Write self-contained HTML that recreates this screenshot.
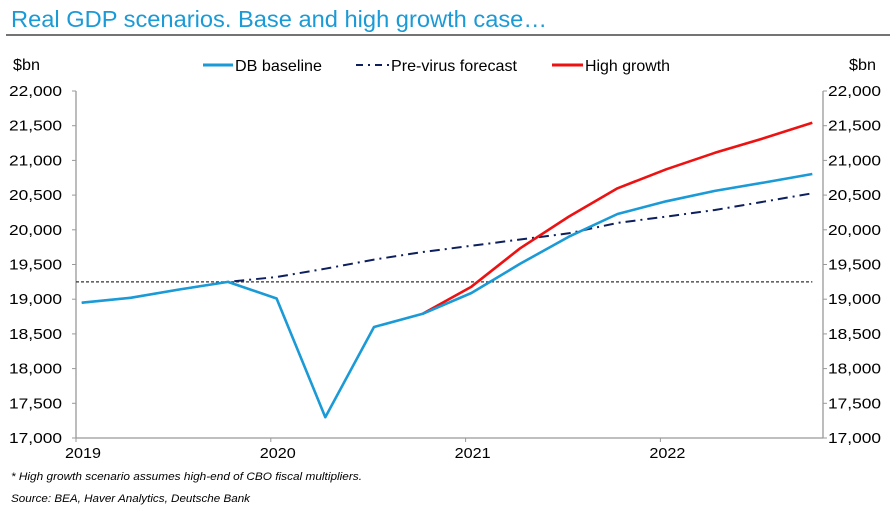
<!DOCTYPE html>
<html><head><meta charset="utf-8"><style>
body{margin:0;background:#fff}
svg{display:block;font-family:"Liberation Sans",Arial,sans-serif}
</style></head><body>
<svg id="chart" width="893" height="506" viewBox="0 0 893 506" xmlns="http://www.w3.org/2000/svg">
<text x="11" y="27" font-size="23" fill="#1a9ad6" textLength="536" lengthAdjust="spacingAndGlyphs">Real GDP scenarios. Base and high growth case…</text>
<line x1="6" y1="35" x2="890" y2="35" stroke="#222" stroke-width="1.2"/>
<text x="13" y="70" font-size="16" textLength="27" lengthAdjust="spacingAndGlyphs">$bn</text>
<text x="849" y="70" font-size="16" textLength="27" lengthAdjust="spacingAndGlyphs">$bn</text>
<g>
 <g><line x1="203" y1="65" x2="233" y2="65" stroke="#1a9ad6" stroke-width="3"/><text x="235" y="71" font-size="16" textLength="87" lengthAdjust="spacingAndGlyphs">DB baseline</text></g>
 <g><line x1="356" y1="65" x2="389" y2="65" stroke="#0d1f5c" stroke-width="2" stroke-dasharray="7,5,2,5"/><text x="391" y="71" font-size="16" textLength="126" lengthAdjust="spacingAndGlyphs">Pre-virus forecast</text></g>
 <g><line x1="552" y1="65" x2="583" y2="65" stroke="#ee1111" stroke-width="3"/><text x="585" y="71" font-size="16" textLength="85" lengthAdjust="spacingAndGlyphs">High growth</text></g>
</g>
<g id="axes"></g>
<g id="marks"></g>
<text x="11" y="480" font-size="11" font-style="italic" textLength="351" lengthAdjust="spacingAndGlyphs">* High growth scenario assumes high-end of CBO fiscal multipliers.</text>
<text x="11" y="502" font-size="11" font-style="italic" textLength="239" lengthAdjust="spacingAndGlyphs">Source: BEA, Haver Analytics, Deutsche Bank</text>
</svg>
<script>
const quarters=["2019Q1","2019Q2","2019Q3","2019Q4","2020Q1","2020Q2","2020Q3","2020Q4","2021Q1","2021Q2","2021Q3","2021Q4","2022Q1","2022Q2","2022Q3","2022Q4"];
const dbBaseline=[18950,19020,19140,19250,19010,17300,18600,18790,19090,19510,19900,20228,20410,20560,20680,20804];
const preVirus=[18950,19020,19140,19250,19320,19440,19570,19680,19770,19860,19950,20100,20190,20285,20405,20526];
const highGrowth=[null,null,null,null,null,null,null,18790,19180,19733,20190,20598,20872,21110,21318,21543];
const referenceLevel=19250;
const yTicks=[17000,17500,18000,18500,19000,19500,20000,20500,21000,21500,22000];
const xYears=[2019,2020,2021,2022];

const NS="http://www.w3.org/2000/svg";
const X0=76,X1=823,YEARW=194.8,Y0=438,Y1=91,VMIN=17000,VMAX=22000;
const xYear=y=>X0+(y-2019)*YEARW;
const xQ=i=>xYear(2019+i/4+0.03);
const yV=v=>Y0-(v-VMIN)/(VMAX-VMIN)*(Y0-Y1);
function mk(tag,attrs,parent){const e=document.createElementNS(NS,tag);for(const k in attrs)e.setAttribute(k,attrs[k]);parent.appendChild(e);return e;}
const axes=document.getElementById('axes'),marks=document.getElementById('marks');
let e;
e=mk('line',{x1:X0,y1:Y1,x2:X0,y2:Y0,stroke:'#999','stroke-width':1.3},axes);


e=mk('line',{x1:X1,y1:Y1,x2:X1,y2:Y0,stroke:'#999','stroke-width':1.3},axes);


e=mk('line',{x1:X0,y1:Y0,x2:X1,y2:Y0,stroke:'#999','stroke-width':1.3},axes);


yTicks.forEach(v=>{const y=yV(v);const s=v.toLocaleString('en-US');
 mk('line',{x1:X0-4,y1:y,x2:X0,y2:y,stroke:'#999'},axes);
 mk('line',{x1:X1,y1:y,x2:X1+4,y2:y,stroke:'#999'},axes);
 e=mk('text',{x:62,y:y+5,'font-size':15,'text-anchor':'end',textLength:53,lengthAdjust:'spacingAndGlyphs'},axes);e.textContent=s;
 
 
 e=mk('text',{x:828,y:y+5,'font-size':15,textLength:53,lengthAdjust:'spacingAndGlyphs'},axes);e.textContent=s;
 
 
});
xYears.forEach(yr=>{const x=xYear(yr);
 mk('line',{x1:x,y1:Y0,x2:x,y2:Y0+4,stroke:'#999'},axes);
 e=mk('text',{x:x+7,y:Y0+20,'font-size':15,'text-anchor':'middle',textLength:36,lengthAdjust:'spacingAndGlyphs'},axes);e.textContent=yr;
 
 
});
e=mk('line',{x1:X0,y1:yV(referenceLevel),x2:xQ(15),y2:yV(referenceLevel),stroke:'#333','stroke-width':1.2,'stroke-dasharray':'3,2'},marks);


function path(arr){let d='';arr.forEach((v,i)=>{if(v==null)return;d+=(d?'L':'M')+xQ(i).toFixed(1)+','+yV(v).toFixed(1);});return d;}
e=mk('path',{d:path(preVirus),fill:'none',stroke:'#0d1f5c','stroke-width':2,'stroke-dasharray':'10,5,2,5'},marks);


e=mk('path',{d:path(highGrowth),fill:'none',stroke:'#ee1111','stroke-width':2.6,'stroke-linejoin':'round'},marks);


e=mk('path',{d:path(dbBaseline),fill:'none',stroke:'#1a9ad6','stroke-width':2.6,'stroke-linejoin':'round'},marks);


</script>
</body></html>
